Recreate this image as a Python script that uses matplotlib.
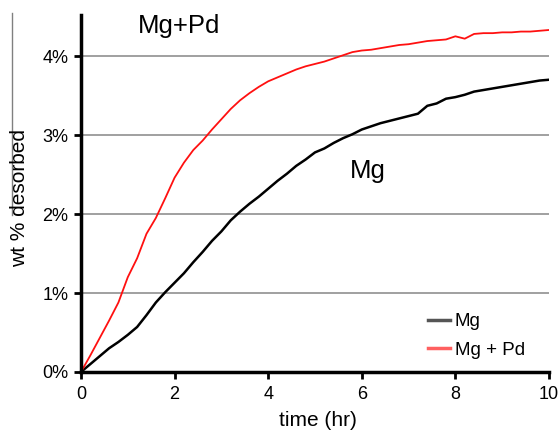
import matplotlib
matplotlib.use("Agg")
import matplotlib.pyplot as plt
from matplotlib.lines import Line2D
from matplotlib.ticker import FuncFormatter

plt.rcParams['font.family'] = ['Liberation Sans', 'DejaVu Sans']

# time in hours
hours = [0.0, 0.2, 0.4, 0.6, 0.8, 1.0, 1.2, 1.4, 1.6, 1.8,
         2.0, 2.2, 2.4, 2.6, 2.8, 3.0, 3.2, 3.4, 3.6, 3.8,
         4.0, 4.2, 4.4, 4.6, 4.8, 5.0, 5.2, 5.4, 5.6, 5.8,
         6.0, 6.2, 6.4, 6.6, 6.8, 7.0, 7.2, 7.4, 7.6, 7.8,
         8.0, 8.2, 8.4, 8.6, 8.8, 9.0, 9.2, 9.4, 9.6, 9.8, 10.0]

# wt % desorbed
mg = [0.00, 0.10, 0.20, 0.30, 0.38, 0.47, 0.57, 0.72, 0.88, 1.01,
      1.13, 1.25, 1.39, 1.52, 1.66, 1.78, 1.92, 2.03, 2.13, 2.22,
      2.32, 2.42, 2.51, 2.61, 2.69, 2.78, 2.83, 2.90, 2.96, 3.01,
      3.07, 3.11, 3.15, 3.18, 3.21, 3.24, 3.27, 3.37, 3.40, 3.46,
      3.48, 3.51, 3.55, 3.57, 3.59, 3.61, 3.63, 3.65, 3.67, 3.69, 3.70]

mg_pd = [0.00, 0.21, 0.43, 0.65, 0.88, 1.20, 1.44, 1.75, 1.95, 2.20,
         2.46, 2.65, 2.81, 2.93, 3.07, 3.20, 3.33, 3.44, 3.53, 3.61,
         3.68, 3.73, 3.78, 3.83, 3.87, 3.90, 3.93, 3.97, 4.01, 4.05,
         4.07, 4.08, 4.10, 4.12, 4.14, 4.15, 4.17, 4.19, 4.20, 4.21,
         4.25, 4.22, 4.28, 4.29, 4.29, 4.30, 4.30, 4.31, 4.31, 4.32, 4.33]

x_ticks = [0, 2, 4, 6, 8, 10]
y_ticks = [0, 1, 2, 3, 4]

fig = plt.figure(figsize=(5.6, 4.33), dpi=100)
ax = fig.add_axes([0.1446, 0.1409, 0.8357, 0.8245])

for y in y_ticks[1:]:
    ax.axhline(y, color='#a0a0a0', lw=1.4, zorder=1)

ax.plot(hours, mg, color='black', lw=1.8, zorder=3)
ax.plot(hours, mg_pd, color='#ff1010', lw=1.3, zorder=3)

ax.set_xlim(0, 10)
ax.set_ylim(0, 4.52)
ax.set_xticks(x_ticks)
ax.set_yticks(y_ticks)
ax.yaxis.set_major_formatter(FuncFormatter(lambda v, p: f"{v:.0f}%"))
ax.tick_params(labelsize=13, width=2, length=5, direction='out', color='black')
ax.tick_params(axis='x', pad=5)
ax.tick_params(axis='y', pad=4)
for s in ['top', 'right']:
    ax.spines[s].set_visible(False)
for s in ['left', 'bottom']:
    ax.spines[s].set_linewidth(2.5)
    ax.spines[s].set_zorder(4)

fig.text(318 / 560, 1 - 421 / 433, 'time (hr)', fontsize=15, ha='center', va='center')
fig.text(20 / 560, 1 - 198 / 433, 'wt % desorbed', fontsize=15, rotation=90,
         ha='center', va='center')

ax.text(2.09, 4.29, 'Mg+Pd', fontsize=18.5, ha='center', va='baseline')
ax.text(6.12, 2.46, 'Mg', fontsize=18.5, ha='center', va='baseline')

handles = [Line2D([], [], color='#555555', lw=2.5),
           Line2D([], [], color='#ff6060', lw=2.5)]
ax.legend(handles, ['Mg', 'Mg + Pd'], loc='upper left', bbox_to_anchor=(0.741, 0.165),
          frameon=False, fontsize=13.5, handlelength=1.2, handletextpad=0.25,
          labelspacing=0.62, borderpad=0, borderaxespad=0)

# thin rule left of the axis label
fig.add_artist(Line2D([12 / 560, 12 / 560], [1 - 13 / 433, 1 - 215 / 433],
                      color='#808080', lw=1.0))

fig.savefig('out.png', dpi=100)
